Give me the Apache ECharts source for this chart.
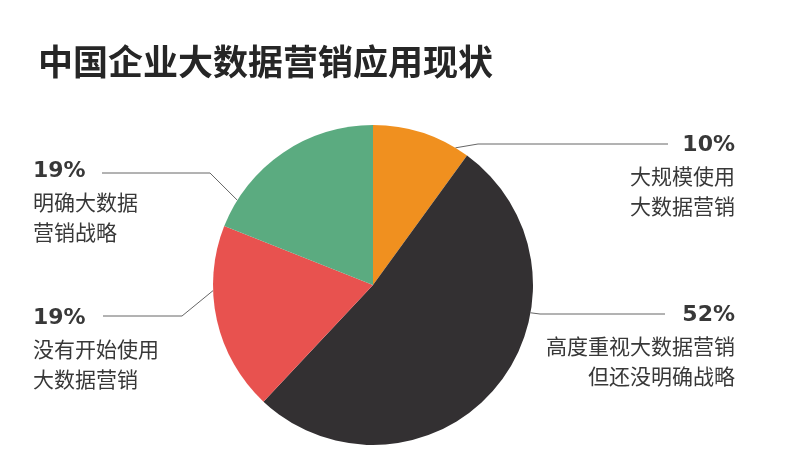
<!DOCTYPE html>
<html>
<head>
<meta charset="utf-8">
<script src="https://cdn.jsdelivr.net/npm/echarts@6/dist/echarts.min.js"></script>
<style>html,body{margin:0;padding:0;background:#fff}#c{width:800px;height:470px}</style>
</head>
<body>
<div id="c"></div>
<script>
var titleText = '中国企业大数据营销应用现状';
var names = ['大规模使用大数据营销', '高度重视大数据营销但还没明确战略', '没有开始使用大数据营销', '明确大数据营销战略'];
var values = [10, 52, 19, 19];
var pctLabels = ['10%', '52%', '19%', '19%'];
var descLines = [
  ['大规模使用', '大数据营销'],
  ['高度重视大数据营销', '但还没明确战略'],
  ['没有开始使用', '大数据营销'],
  ['明确大数据', '营销战略']
];
var colors = ['#f0901f', '#333032', '#e8524f', '#5bab80'];

var CX = 373, CY = 285, R = 160;
// label placement (style only)
var labelPos = [
  {x: 735, y: 130, align: 'right', ang: 31, elbow: [478, 144], end: [668, 144]},
  {x: 735, y: 300, align: 'right', ang: 100, elbow: [540, 314], end: [665, 314]},
  {x: 33, y: 303, align: 'left', ang: 268, elbow: [182, 316], end: [103, 316]},
  {x: 33, y: 156, align: 'left', ang: 302, elbow: [210, 173], end: [102, 173]}
];

var chart = echarts.init(document.getElementById('c'), null, {renderer: 'canvas'});
chart.setOption({
  animation: false,
  backgroundColor: '#ffffff',
  title: {
    text: titleText,
    left: 33, top: 39,
    textStyle: {fontSize: 35, fontWeight: 'bold', color: '#262626', fontFamily: 'Noto Sans CJK SC'}
  },
  series: [{
    type: 'pie',
    center: [CX, CY],
    radius: R,
    startAngle: 90,
    clockwise: true,
    data: names.map(function (n, i) {
      return {name: n, value: values[i], itemStyle: {color: colors[i]}};
    }),
    itemStyle: {borderWidth: 0},
    label: {
      show: true,
      position: 'outside',
      formatter: function (p) {
        var i = p.dataIndex;
        return '{p|' + pctLabels[i] + '}\n' + descLines[i].map(function (t) { return '{t|' + t + '}'; }).join('\n');
      },
      rich: {
        p: {fontSize: 22, fontWeight: 'bold', color: '#383838', lineHeight: 31, fontFamily: 'DejaVu Sans'},
        t: {fontSize: 21, color: '#383838', lineHeight: 30, fontFamily: 'Noto Sans CJK SC'}
      }
    },
    labelLine: {show: true, lineStyle: {color: '#666', width: 1}},
    labelLayout: function (params) {
      var s = labelPos[params.dataIndex];
      var a = s.ang * Math.PI / 180;
      var ax = CX + R * Math.sin(a), ay = CY - R * Math.cos(a);
      return {
        x: s.x, y: s.y, align: s.align, verticalAlign: 'top',
        labelLinePoints: [[ax, ay], s.elbow, s.end]
      };
    }
  }]
});
</script>
</body>
</html>
